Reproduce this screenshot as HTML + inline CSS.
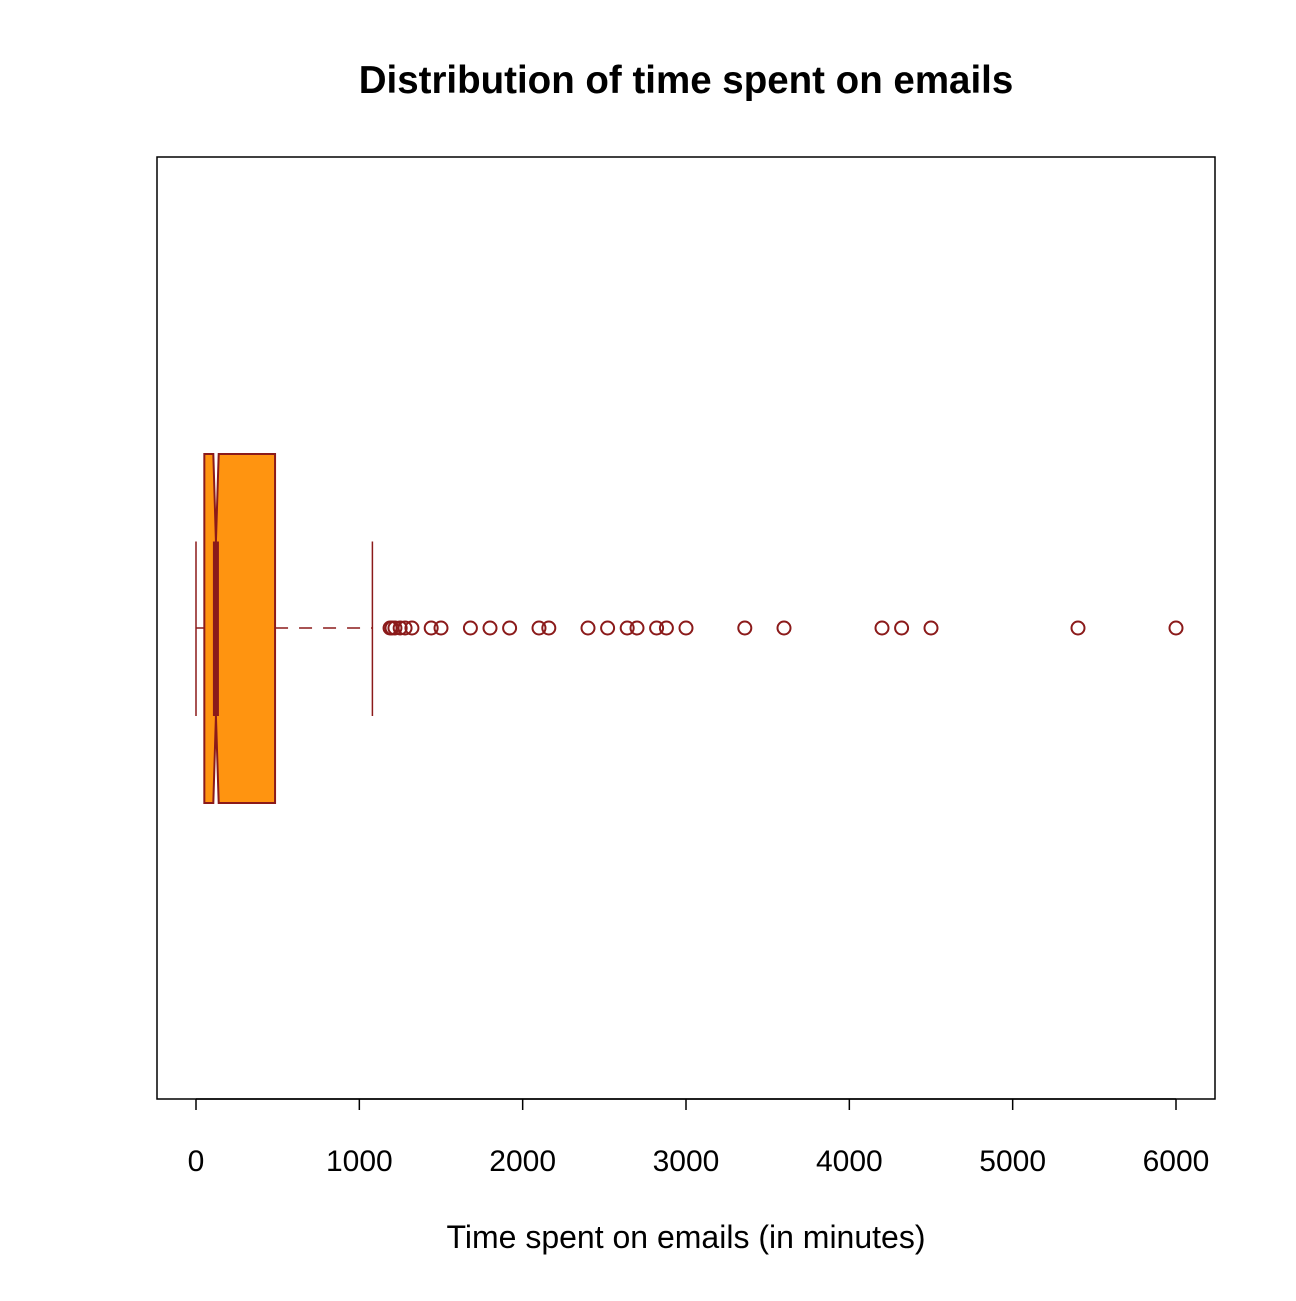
<!DOCTYPE html>
<html><head><meta charset="utf-8"><style>
body{margin:0;background:#fff}
svg text{font-family:"Liberation Sans",Arial,sans-serif}
</style></head><body>
<svg width="1296" height="1296" xmlns="http://www.w3.org/2000/svg">
<rect width="1296" height="1296" fill="#fff"/>
<text x="686" y="93" text-anchor="middle" font-size="38.5" font-weight="bold">Distribution of time spent on emails</text>
<rect x="157" y="157" width="1058" height="942" fill="none" stroke="#000" stroke-width="1.5"/>
<text x="686" y="1248" text-anchor="middle" font-size="32">Time spent on emails (in minutes)</text>
<g id="axis"></g>
<g id="box"></g>
<g id="out"></g>
</svg>
<script>
const ticks=[0,1000,2000,3000,4000,5000,6000];
const stats=[0,51,122,484,1080]; // min, q1, median, q3, upper whisker
const notch=[106,139];
const outliers=[1188,1200,1218,1250,1280,1322,1440,1500,1680,1800,1920,2100,2160,2400,2520,2640,2700,2820,2880,3000,3360,3600,4200,4320,4500,5400,6000];
const NS="http://www.w3.org/2000/svg";
function X(v){return 196+v*(980/6000);}
function mk(t,a,p){const e=document.createElementNS(NS,t);for(const k in a)e.setAttribute(k,a[k]);p.appendChild(e);return e;}
const ax=document.getElementById('axis');
mk('line',{x1:X(ticks[0]),x2:X(ticks[ticks.length-1]),y1:1099,y2:1099,stroke:'#000','stroke-width':1.5},ax);
ticks.forEach(t=>{
 const l=mk('line',{x1:X(t),x2:X(t),y1:1099,y2:1110,stroke:'#000','stroke-width':1.5},ax);
 
 
 const tx=mk('text',{x:X(t),y:1171,'text-anchor':'middle','font-size':30},ax);
 tx.textContent=t;
 
 
});
const bx=document.getElementById('box');
const col='#8b1a1a', yTop=454, yBot=803, yMid=628, mt=541.5, mb=716;
const wl=mk('line',{x1:X(stats[0]),x2:X(stats[1]),y1:yMid,y2:yMid,stroke:col,'stroke-width':1.5,'stroke-dasharray':'9,7'},bx);


const wu=mk('line',{x1:X(stats[3]),x2:X(stats[4]),y1:yMid,y2:yMid,stroke:col,'stroke-width':1.5,'stroke-dasharray':'13,11'},bx);


[stats[0],stats[4]].forEach(v=>{
 const s=mk('line',{x1:X(v),x2:X(v),y1:mt,y2:mb,stroke:col,'stroke-width':1.5},bx);
 
 
});
const pts=[[X(stats[1]),yTop],[X(notch[0]),yTop],[X(stats[2]),mt],[X(notch[1]),yTop],[X(stats[3]),yTop],[X(stats[3]),yBot],[X(notch[1]),yBot],[X(stats[2]),mb],[X(notch[0]),yBot],[X(stats[1]),yBot]];
const poly=mk('polygon',{points:pts.map(p=>p.join(',')).join(' '),fill:'#ff9410',stroke:col,'stroke-width':2},bx);


const md=mk('line',{x1:X(stats[2]),x2:X(stats[2]),y1:mt,y2:mb,stroke:col,'stroke-width':6},bx);


const og=document.getElementById('out');
outliers.forEach(v=>{
 const ci=mk('circle',{cx:X(v),cy:yMid,r:6.5,fill:'none',stroke:col,'stroke-width':2},og);
 
 
});
</script>
</body></html>
